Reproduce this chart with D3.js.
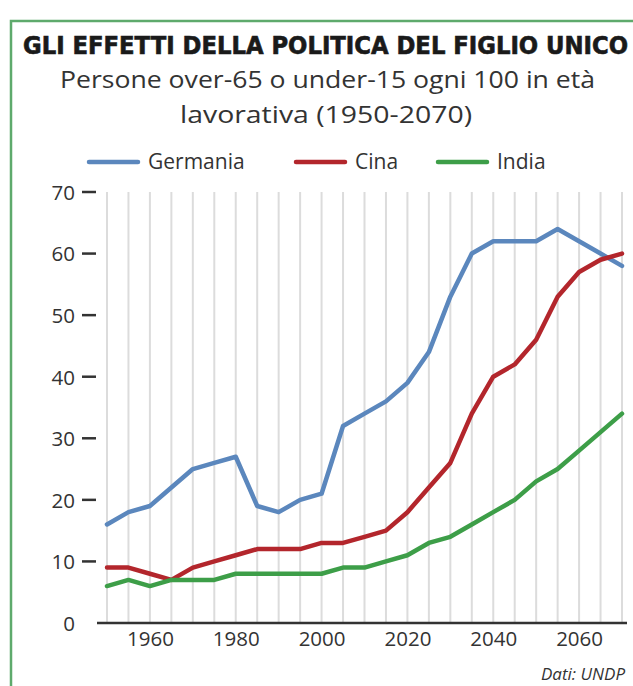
<!DOCTYPE html>
<html><head><meta charset="utf-8">
<script src="https://cdn.jsdelivr.net/npm/d3@7"></script>
<style>
html,body{margin:0;padding:0;background:#fff;}
svg{display:block;}
</style>
</head><body>
<svg id="chart" width="633" height="686"></svg>
<script>
const years = [1950,1955,1960,1965,1970,1975,1980,1985,1990,1995,2000,2005,2010,2015,2020,2025,2030,2035,2040,2045,2050,2055,2060,2065,2070];
const germania = [16,18,19,22,25,26,27,19,18,20,21,32,34,36,39,44,53,60,62,62,62,64,62,60,58];
const cina     = [9,9,8,7,9,10,11,12,12,12,13,13,14,15,18,22,26,34,40,42,46,53,57,59,60];
const india    = [6,7,6,7,7,7,8,8,8,8,8,9,9,10,11,13,14,16,18,20,23,25,28,31,34];
const seriesNames = ["Germania","Cina","India"];
const seriesColors = ["#5b87bd","#b3262c","#3d9e48"];
const yTicks = [0,10,20,30,40,50,60,70];
const xTicks = [1960,1980,2000,2020,2040,2060];
const title = "GLI EFFETTI DELLA POLITICA DEL FIGLIO UNICO";
const subtitle = ["Persone over-65 o under-15 ogni 100 in età","lavorativa (1950-2070)"];
const source = "Dati: UNDP";

const svg = d3.select("#chart");
const textCol = "#333";
const font = "'Open Sans',sans-serif";

// border (left and top)
svg.append("path").attr("d","M11,686 V21 H640").attr("fill","none").attr("stroke","#5eaa6c").attr("stroke-width",2.5);

// title
svg.append("text").attr("x",23).attr("y",54)
  .attr("font-family","'DejaVu Sans Condensed','DejaVu Sans',sans-serif").attr("font-weight","bold")
  .attr("font-size",25).attr("fill","#1a1a1a").attr("stroke","#1a1a1a").attr("stroke-width",0.6)
  .attr("textLength",605).attr("lengthAdjust","spacingAndGlyphs").text(title);

// subtitle
const subX = [60,180], subLen = [535,292];
subtitle.forEach((s,i)=>{
  svg.append("text").attr("x",subX[i]).attr("y",88+i*35)
    .attr("font-family",font).attr("font-size",24).attr("fill",textCol)
    .attr("textLength",subLen[i]).attr("lengthAdjust","spacingAndGlyphs").text(s);
});

// scales
const x = d3.scaleLinear().domain([1950,2070]).range([107,622]);
const y = d3.scaleLinear().domain([0,70]).range([623,192]);

// gridlines
svg.append("g").selectAll("line").data(years).join("line")
  .attr("x1",d=>x(d)).attr("x2",d=>x(d)).attr("y1",y(70)).attr("y2",y(0))
  .attr("stroke","#dcdcdc").attr("stroke-width",2);

// y axis
const yAxis = d3.axisLeft(y).tickValues(yTicks).tickSize(0).tickPadding(0);
const gy = svg.append("g").attr("transform","translate(75,0)").call(yAxis);
gy.select(".domain").remove();
gy.selectAll("text").attr("font-family",font).attr("font-size",20.5).attr("fill",textCol).attr("dy","0.36em");
// dash marks
svg.append("g").selectAll("line").data(yTicks.filter(d=>d>0)).join("line")
  .attr("x1",82).attr("x2",96).attr("y1",d=>y(d)).attr("y2",d=>y(d))
  .attr("stroke",textCol).attr("stroke-width",2.5);

// x axis
const xAxis = d3.axisBottom(x).tickValues(xTicks).tickFormat(d3.format("d")).tickSize(0).tickPadding(8);
const gx = svg.append("g").attr("transform",`translate(0,${y(0)})`).call(xAxis);
gx.select(".domain").remove();
gx.selectAll("text").attr("font-family",font).attr("font-size",20.5).attr("fill",textCol);
svg.append("line").attr("x1",97).attr("x2",627).attr("y1",y(0)).attr("y2",y(0))
  .attr("stroke","#333").attr("stroke-width",2.5);

// lines
const data = [germania,cina,india];
const line = d3.line().x((d,i)=>x(years[i])).y(d=>y(d));
svg.append("g").selectAll("path").data(data).join("path")
  .attr("d",line).attr("fill","none")
  .attr("stroke",(d,i)=>seriesColors[i]).attr("stroke-width",4.5)
  .attr("stroke-linejoin","round").attr("stroke-linecap","round");

// legend
const legX = [89,296,438];
const lg = svg.append("g").selectAll("g").data(seriesNames).join("g")
  .attr("transform",(d,i)=>`translate(${legX[i]},162)`);
lg.append("line").attr("x1",0).attr("x2",49).attr("y1",0).attr("y2",0)
  .attr("stroke",(d,i)=>seriesColors[i]).attr("stroke-width",4.5).attr("stroke-linecap","round");
lg.append("text").attr("x",59).attr("y",0).attr("dy","0.35em")
  .attr("font-family",font).attr("font-size",21).attr("fill",textCol).text(d=>d);

// source
svg.append("text").attr("x",625).attr("y",680).attr("text-anchor","end")
  .attr("font-family",font).attr("font-style","italic").attr("font-size",17).attr("fill",textCol).text(source);
</script>
</body></html>
